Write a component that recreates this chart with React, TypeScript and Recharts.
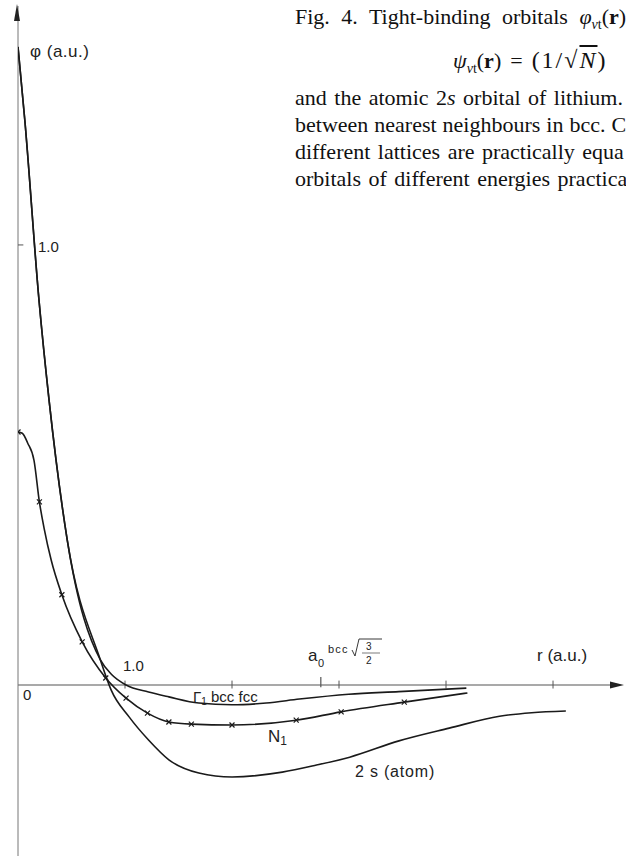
import React from "react"
import { ComposedChart, Line, XAxis, YAxis, ReferenceLine } from "recharts"

// r in atomic units, phi in arbitrary units
const gammaR = [0, 0.065, 0.196, 0.29, 0.46, 0.77, 0.87, 1.01, 1.22, 1.41, 1.69, 2.0, 2.32, 2.63, 3.09, 3.56, 4.19]
const gammaPhi = [1.45, 1.28, 0.875, 0.648, 0.33, 0.057, 0.025, 0, -0.016, -0.027, -0.041, -0.045, -0.041, -0.032, -0.021, -0.015, -0.007]

const n1R = [0, 0.04, 0.09, 0.15, 0.2, 0.245, 0.31, 0.41, 0.6, 0.82, 1.01, 1.21, 1.41, 1.62, 2.0, 2.6, 3.02, 3.61, 4.2]
const n1Phi = [0.575, 0.572, 0.55, 0.51, 0.416, 0.355, 0.284, 0.205, 0.098, 0.016, -0.03, -0.064, -0.084, -0.089, -0.091, -0.08, -0.061, -0.039, -0.018]
const n1Marked = [1, 0, 0, 0, 1, 0, 0, 1, 1, 1, 1, 1, 1, 1, 1, 1, 1, 1, 0]

const atomR = [0, 0.065, 0.196, 0.29, 0.46, 0.77, 0.87, 1.04, 1.22, 1.41, 1.69, 2.0, 2.47, 2.79, 3.1, 3.56, 4.03, 4.5, 4.8, 5.12]
const atomPhi = [1.45, 1.28, 0.875, 0.648, 0.33, 0.057, -0.011, -0.073, -0.125, -0.17, -0.2, -0.209, -0.198, -0.182, -0.164, -0.127, -0.098, -0.071, -0.063, -0.059]

const xTicks = [1, 2, 3, 4, 5]
const a0Tick = 2.83

// caption lines, as far as they show inside the page
const captionLines = [
  "and the atomic 2s orbital of lithium.",
  "between nearest neighbours in bcc. C",
  "different lattices are practically equa",
  "orbitals of different energies practica",
]
const captionSpacing = [2, 0.5, 2, 2]

const gammaData = gammaR.map((r, i) => ({ r, phi: gammaPhi[i] }))
const n1Data = n1R.map((r, i) => ({ r, phi: n1Phi[i], marked: n1Marked[i] }))
const atomData = atomR.map((r, i) => ({ r, phi: atomPhi[i] }))

const ink = "#1a1a1a"
const axisColor = "#555"

const Cross = (props: any) => {
  const { cx, cy, payload, index } = props
  if (!payload || !payload.marked || cx == null) return <g key={`m-${index}`} />
  const s = 2.5
  return (
    <g key={`m-${index}`} stroke={ink} strokeWidth={1.2}>
      <line x1={cx - s} y1={cy - s} x2={cx + s} y2={cy + s} />
      <line x1={cx - s} y1={cy + s} x2={cx + s} y2={cy - s} />
    </g>
  )
}

const sans = "'Liberation Sans', Arial, sans-serif"
const serif = "'Liberation Serif', 'Times New Roman', serif"

export default function App() {
  return (
    <div style={{ position: "absolute", left: 0, top: 0, width: 626, height: 856, overflow: "hidden", background: "#fff" }}>
      <ComposedChart width={626} height={856} margin={{ top: 6, right: 6, left: 18, bottom: 0 }}>
        <XAxis type="number" dataKey="r" domain={[0, 5.626]} hide allowDataOverflow />
        <YAxis type="number" dataKey="phi" domain={[-0.3886, 1.543]} hide allowDataOverflow />
        <ReferenceLine y={0} stroke={axisColor} strokeWidth={1.2} />
        <ReferenceLine x={0} stroke="#777" strokeWidth={1} />
        {xTicks.map((t) => (
          <ReferenceLine key={t} segment={[{ x: t, y: -0.008 }, { x: t, y: 0.01 }]} stroke={axisColor} strokeWidth={1} />
        ))}
        <ReferenceLine segment={[{ x: a0Tick, y: -0.005 }, { x: a0Tick, y: 0.018 }]} stroke={axisColor} strokeWidth={1.2} />
        <ReferenceLine segment={[{ x: 0, y: 1 }, { x: 0.05, y: 1 }]} stroke={axisColor} strokeWidth={1} />
        <Line data={gammaData} dataKey="phi" type="monotone" stroke={ink} strokeWidth={1.6} dot={false} isAnimationActive={false} />
        <Line data={atomData} dataKey="phi" type="monotone" stroke={ink} strokeWidth={1.6} dot={false} isAnimationActive={false} />
        <Line data={n1Data} dataKey="phi" type="monotone" stroke={ink} strokeWidth={1.6} dot={<Cross />} isAnimationActive={false} />
      </ComposedChart>

      <svg width={626} height={856} style={{ position: "absolute", left: 0, top: 0, pointerEvents: "none" }}>
        <polygon points="17,4 14,21 20,21" fill="#222" />
        <polygon points="624,685 610,681.5 610,688.5" fill="#222" />
        <g fontFamily={sans} fill="#222">
          <text x={30} y={57} fontSize={17} letterSpacing={0.5}>φ (a.u.)</text>
          <text x={38} y={252} fontSize={15}>1.0</text>
          <text x={123} y={671} fontSize={15}>1.0</text>
          <text x={23} y={700} fontSize={15}>0</text>
          <text x={308} y={661} fontSize={17}>a</text>
          <text x={318} y={667} fontSize={11}>0</text>
          <text x={328} y={653} fontSize={11} letterSpacing={1.2}>bcc</text>
          <polyline points="352,650 355,656 359,639 382,639" fill="none" stroke="#222" strokeWidth={0.9} />
          <text x={366} y={650} fontSize={10}>3</text>
          <line x1={362} y1={653} x2={380} y2={653} stroke="#222" strokeWidth={0.6} />
          <text x={366} y={664} fontSize={10}>2</text>
          <text x={537} y={661} fontSize={17}>r (a.u.)</text>
          <text x={193} y={702} fontSize={15}>Γ<tspan fontSize={10} dy={3}>1</tspan><tspan dy={-3}> bcc fcc</tspan></text>
          <text x={268} y={742} fontSize={17}>N<tspan fontSize={12} dy={3}>1</tspan></text>
          <text x={355} y={777} fontSize={16} letterSpacing={0.8}>2 s (atom)</text>
        </g>
      </svg>

      <div style={{ position: "absolute", left: 295, top: 0, width: 331, fontFamily: serif, fontSize: 22, lineHeight: "27px", color: "#111", whiteSpace: "nowrap" }}>
        <div style={{ position: "absolute", left: 0, top: 3, wordSpacing: 6 }}>
          Fig. 4. Tight-binding orbitals <i>φ</i><sub style={{ fontSize: 14 }}><i>ν</i>t</sub>(<b>r</b>)
        </div>
        <div style={{ position: "absolute", left: 158, top: 47 }}>
          <i>ψ</i><sub style={{ fontSize: 14 }}><i>ν</i>t</sub>(<b>r</b>)
          <span style={{ margin: "0 9px" }}>=</span>
          <span style={{ fontSize: 24, letterSpacing: 2 }}>
            (1/√<span style={{ textDecoration: "overline" }}><i>N</i></span>)
          </span>
        </div>
        {captionLines.map((line, i) => (
          <div key={i} style={{ position: "absolute", left: 0, top: 84 + i * 27, wordSpacing: captionSpacing[i] }}>
            {i === 0 ? (
              <>
                and the atomic 2<i>s</i> orbital of lithium.
              </>
            ) : (
              line
            )}
          </div>
        ))}
      </div>
    </div>
  )
}
